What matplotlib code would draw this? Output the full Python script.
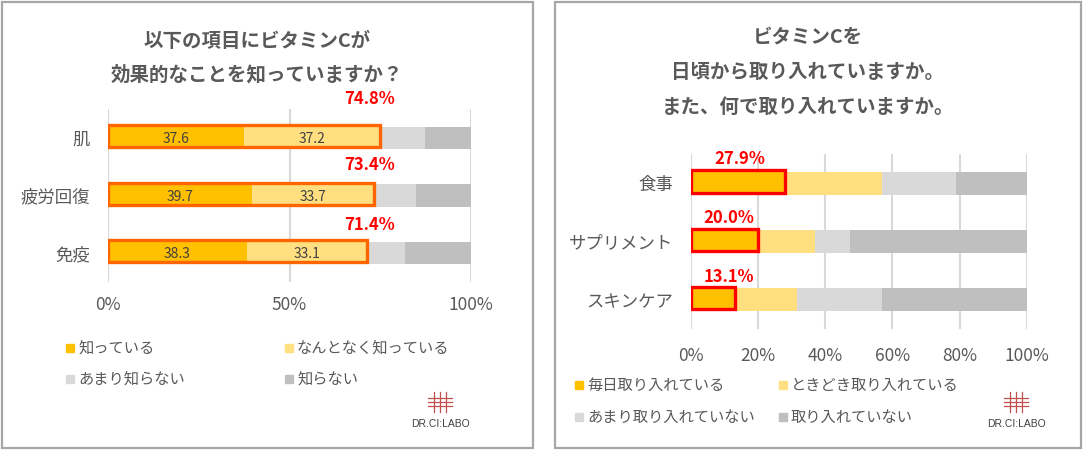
import matplotlib
matplotlib.use("Agg")
import matplotlib.pyplot as plt
import numpy as np
from matplotlib.patches import Rectangle
from matplotlib.lines import Line2D

plt.rcParams['font.family'] = ['Noto Sans CJK JP', 'DejaVu Sans']

# data - left chart
cats_l = ["肌", "疲労回復", "免疫"]
know = [37.6, 39.7, 38.3]
somewhat = [37.2, 33.7, 33.1]
little = [12.5, 11.5, 10.3]
dont = [12.7, 15.1, 18.3]
totals_l = ["74.8%", "73.4%", "71.4%"]
legend_l = ["知っている", "なんとなく知っている", "あまり知らない", "知らない"]

# data - right chart
cats_r = ["食事", "サプリメント", "スキンケア"]
daily = [27.9, 20.0, 13.1]
sometimes = [28.9, 17.0, 18.5]
rarely = [22.0, 10.4, 25.2]
never = [21.2, 52.6, 43.2]
legend_r = ["毎日取り入れている", "ときどき取り入れている", "あまり取り入れていない", "取り入れていない"]

colors = ["#FFC000", "#FFDF80", "#D9D9D9", "#BFBFBF"]
txt = "#595959"

W, H = 1083, 450
fig = plt.figure(figsize=(W / 100, H / 100), dpi=100)

# panel borders
for x0, x1 in [(2, 533), (555, 1081)]:
    fig.patches.append(Rectangle((x0 / W, 2 / H), (x1 - x0) / W, (H - 4) / H,
                                 transform=fig.transFigure, fill=False,
                                 edgecolor="#A6A6A6", lw=1.6))


def stacked(ax, cats, series, step, box_n, box_color, labels, lab_x, lab_dy, inner):
    y = np.arange(len(cats))
    left = np.zeros(len(cats))
    for vals, c in zip(series, colors):
        ax.barh(y, vals, left=left, height=0.39, color=c, zorder=2)
        if inner and c in colors[:2]:
            for yi, (l, v) in enumerate(zip(left, vals)):
                ax.text(l + v / 2, yi + 0.02, f"{v:.1f}", ha="center", va="center",
                        fontsize=10, color="#404040", zorder=4)
        left = left + np.array(vals)
    box = np.sum(series[:box_n], axis=0)
    ax.barh(y - 0.03, box, height=0.38, fill=False, edgecolor=box_color, lw=2.4, zorder=3)
    for yi, (lb, lx, dy) in enumerate(zip(labels, lab_x, lab_dy)):
        ax.text(lx, yi - dy, lb, ha="center", va="center", fontsize=12,
                fontweight="bold", color="#FF0000")
    ax.set_xlim(0, 100)
    ax.set_ylim(2.5, -0.5)
    ax.set_yticks(y)
    ax.set_yticklabels(cats, fontsize=12.5, color=txt)
    ax.set_xticks(np.arange(0, 101, step))
    ax.set_xticklabels([f"{v}%" for v in range(0, 101, step)], fontsize=12.5, color=txt)
    ax.tick_params(length=0)
    ax.tick_params(axis="y", pad=13)
    ax.grid(axis="x", color="#D9D9D9", lw=1.5, zorder=0)
    ax.set_axisbelow(True)
    for s in ax.spines.values():
        s.set_visible(False)


# left chart
axl = fig.add_axes([108 / W, 168 / H, 363 / W, 173 / H])
stacked(axl, cats_l, [know, somewhat, little, dont], 50, 2, "#FF6600",
        totals_l, [72, 72, 72], [0.67, 0.53, 0.49], True)
axl.tick_params(axis="x", pad=10)

# right chart
axr = fig.add_axes([690.7 / W, 121 / H, 336.3 / W, 175 / H])
lab_r = [f"{v:.1f}%" for v in daily]
stacked(axr, cats_r, [daily, sometimes, rarely, never], 20, 1, "#FF0000",
        lab_r, [14.7, 11.4, 11.4], [0.41, 0.41, 0.40], False)
axr.tick_params(axis="x", pad=13)

# titles
fig.text(257 / W, 1 - 41 / H, "以下の項目にビタミンCが", ha="center", va="center",
         fontsize=14, fontweight="bold", color=txt)
fig.text(257 / W, 1 - 75 / H, "効果的なことを知っていますか？", ha="center", va="center",
         fontsize=14, fontweight="bold", color=txt)
for i, t in enumerate(["ビタミンCを", "日頃から取り入れていますか。", "また、何で取り入れていますか。"]):
    fig.text(808 / W, 1 - (37 + 35 * i) / H, t, ha="center", va="center",
             fontsize=14, fontweight="bold", color=txt)


# legends
def legend(labels, xs, ys):
    pos = [(xs[0], ys[0]), (xs[1], ys[0]), (xs[0], ys[1]), (xs[1], ys[1])]
    for lb, c, (x, y) in zip(labels, colors, pos):
        fig.patches.append(Rectangle(((x - 4) / W, 1 - (y + 4) / H), 8 / W, 8 / H,
                                     transform=fig.transFigure, color=c))
        fig.text((x + 8) / W, 1 - y / H, lb, ha="left", va="center",
                 fontsize=11, color=txt)


legend(legend_l, [70, 289], [348, 379])
legend(legend_r, [579, 783], [385, 417])


# logos
def logo(cx):
    for dy in [398, 402, 406]:
        fig.lines.append(Line2D([(cx - 12) / W, (cx + 12) / W], [1 - dy / H] * 2,
                                transform=fig.transFigure, color="#C0504D", lw=0.9))
    for dx in [-6, 0, 6]:
        fig.lines.append(Line2D([(cx + dx) / W] * 2, [1 - 392 / H, 1 - 412 / H],
                                transform=fig.transFigure, color="#C0504D", lw=0.9))
    fig.text(cx / W, 1 - 424 / H, "DR.CI:LABO", ha="center", va="center",
             fontsize=7.5, color="#404040", family="Liberation Sans")


logo(440)
logo(1016)

fig.savefig("out.png", dpi=100)
